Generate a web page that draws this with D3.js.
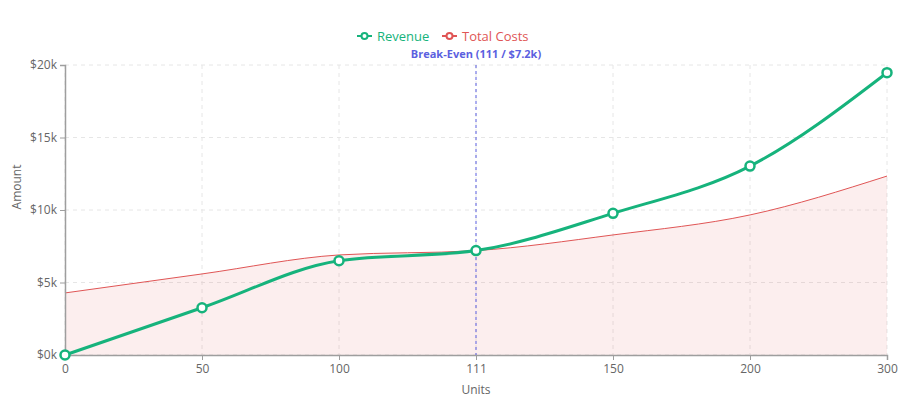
<!DOCTYPE html>
<html>
<head>
<meta charset="utf-8">
<script src="https://cdn.jsdelivr.net/npm/d3@7"></script>
<style>
  html, body { margin: 0; padding: 0; background: #fff; }
  svg { display: block; font-family: "Open Sans", "Noto Sans", sans-serif; }
</style>
</head>
<body>
<div id="chart"></div>
<script>
// Break-even chart: revenue vs total costs over units sold

const units       = ["0", "50", "100", "111", "150", "200", "300"];
const revenue     = [0, 3.26, 6.5, 7.2, 9.77, 13.03, 19.47];   // $k
const totalCosts  = [4.28, 5.59, 6.9, 7.2, 8.28, 9.66, 12.34]; // $k
const yTicks      = [0, 5, 10, 15, 20];
const breakEven   = { unit: "111", label: "Break-Even (111 / $7.2k)" };

const W = 920, H = 412;
const m = { top: 65, right: 33, bottom: 57, left: 65 };
const iw = W - m.left - m.right;
const ih = H - m.top - m.bottom;

const green = "#16b37c";
const red   = "#e05555";
const indigo = "#5b5fe0";
const axisColor = "#9e9e9e";
const textColor = "#666";

const svg = d3.select("#chart").append("svg")
  .attr("width", W).attr("height", H);

const g = svg.append("g").attr("transform", `translate(${m.left},${m.top})`);

const x = d3.scalePoint().domain(units).range([0, iw]);
const y = d3.scaleLinear().domain([0, 20]).range([ih, 0]);

// Grid
yTicks.forEach(t => {
  g.append("line")
    .attr("x1", 0).attr("x2", iw)
    .attr("y1", y(t)).attr("y2", y(t))
    .attr("stroke", "#e6e6e6").attr("stroke-dasharray", "4,4");
});
units.forEach(u => {
  g.append("line")
    .attr("x1", x(u)).attr("x2", x(u))
    .attr("y1", 0).attr("y2", ih)
    .attr("stroke", "#e6e6e6").attr("stroke-dasharray", "4,4");
});

// Costs area + line
const curve = d3.curveMonotoneX;
g.append("path")
  .datum(totalCosts)
  .attr("d", d3.area()
    .x((d, i) => x(units[i])).y0(ih).y1(d => y(d)).curve(curve))
  .attr("fill", red).attr("fill-opacity", 0.1);

g.append("path")
  .datum(totalCosts)
  .attr("d", d3.line().x((d, i) => x(units[i])).y(d => y(d)).curve(curve))
  .attr("fill", "none").attr("stroke", red).attr("stroke-width", 1);

// Axes
const xAxisG = g.append("g")
  .attr("transform", `translate(0,${ih})`)
  .call(d3.axisBottom(x).tickSize(5).tickPadding(4));
const yAxisG = g.append("g")
  .call(d3.axisLeft(y).tickValues(yTicks).tickFormat(d => `$${d}k`).tickSize(5).tickPadding(3));
[xAxisG, yAxisG].forEach(a => {
  a.select(".domain").attr("stroke", axisColor).attr("stroke-width", 1.5);
  a.selectAll(".tick line").attr("stroke", axisColor);
  a.selectAll("text")
    .attr("fill", textColor)
    .attr("font-size", "12px")
    .attr("font-family", "'Open Sans', 'Noto Sans', sans-serif");
});

// Break-even marker
g.append("line")
  .attr("x1", x(breakEven.unit)).attr("x2", x(breakEven.unit))
  .attr("y1", 0).attr("y2", ih)
  .attr("stroke", indigo).attr("stroke-width", 1).attr("stroke-dasharray", "3,3");
g.append("text")
  .attr("x", x(breakEven.unit)).attr("y", -7)
  .attr("text-anchor", "middle")
  .attr("fill", indigo)
  .attr("font-size", "11px")
  .attr("font-weight", "700")
  .text(breakEven.label);

// Revenue line + points
g.append("path")
  .datum(revenue)
  .attr("d", d3.line().x((d, i) => x(units[i])).y(d => y(d)).curve(curve))
  .attr("fill", "none").attr("stroke", green).attr("stroke-width", 3);

g.selectAll(".rev-pt")
  .data(revenue)
  .join("circle")
    .attr("cx", (d, i) => x(units[i]))
    .attr("cy", d => y(d))
    .attr("r", 4.5)
    .attr("fill", "#fff")
    .attr("stroke", green)
    .attr("stroke-width", 2.5);

// Axis titles
svg.append("text")
  .attr("x", m.left + iw / 2).attr("y", 394)
  .attr("text-anchor", "middle")
  .attr("fill", textColor).attr("font-size", "12px")
  .text("Units");
svg.append("text")
  .attr("transform", `translate(21,187) rotate(-90)`)
  .attr("text-anchor", "middle")
  .attr("fill", textColor).attr("font-size", "12px")
  .text("Amount");

// Legend
const legend = [
  { name: "Revenue", color: green, x: 357 },
  { name: "Total Costs", color: red, x: 442 }
];
legend.forEach(l => {
  const lg = svg.append("g").attr("transform", `translate(${l.x},36)`);
  lg.append("line").attr("x1", 0).attr("x2", 15).attr("y1", 0).attr("y2", 0)
    .attr("stroke", l.color).attr("stroke-width", 2);
  lg.append("circle").attr("cx", 7.5).attr("cy", 0).attr("r", 3)
    .attr("fill", "#fff").attr("stroke", l.color).attr("stroke-width", 2);
  lg.append("text").attr("x", 20).attr("y", 0)
    .attr("dominant-baseline", "central")
    .attr("fill", l.color).attr("font-size", "13px")
    .text(l.name);
});
</script>
</body>
</html>
